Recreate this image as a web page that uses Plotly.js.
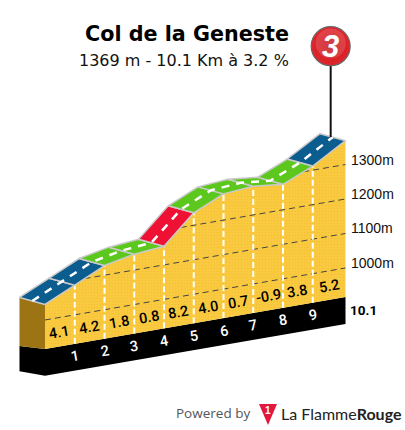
<!DOCTYPE html>
<html><head><meta charset="utf-8">
<script src="https://cdn.plot.ly/plotly-3.0.1.min.js"></script>
<style>html,body{margin:0;padding:0;background:#fff}#c{width:405px;height:430px}</style></head>
<body><div id="c"></div>
<script>
const TITLE = "Col de la Geneste";
const SUBTITLE = "1369 m - 10.1 Km à 3.2 %";
const km = [0,1,2,3,4,5,6,7,8,9,10.1];
const elevation = [1045,1086,1128,1146,1154,1236,1276,1283,1274,1312,1369];
const gradients = ["4.1","4.2","1.8","0.8","8.2","4.0","0.7","-0.9","3.8","5.2"];
const segColors = ["#0b5c8f","#0b5c8f","#5cc81e","#5cc81e","#ee1133","#5cc81e","#5cc81e","#5cc81e","#5cc81e","#0b5c8f"];
const gridLevels = [1000,1100,1200,1300];
const gridStartKm = [0,1.33,4.56,8.68];
const kmTicks = [1,2,3,4,5,6,7,8,9];
const GROUND = 916, BASE = 838, TILT = 14.92;
const ROAD_DKM = -0.857, ROAD_DE = 20.3;

const Y = (k,e)=> e + TILT*k;
const elevAt = k => { for(let i=0;i<km.length-1;i++){ if(k<=km[i+1]) return elevation[i]+(elevation[i+1]-elevation[i])*(k-km[i])/(km[i+1]-km[i]); } return elevation[elevation.length-1]; };
const back = (k,e,f=1)=>[k+ROAD_DKM*f, Y(k,e)+ROAD_DE*f];

const traces=[];
const poly=(xs,ys,fill,extra={})=>traces.push(Object.assign({type:'scatter',mode:'lines',x:xs,y:ys,fill:'toself',fillcolor:fill,line:{width:0},hoverinfo:'skip',showlegend:false},extra));

// black plinth
poly([0,10.1,10.1,0],[Y(0,GROUND),Y(10.1,GROUND),Y(10.1,BASE),Y(0,BASE)],'#000');
poly([ROAD_DKM,0,0,ROAD_DKM],[Y(0,GROUND)+8.7,Y(0,GROUND),Y(0,BASE),Y(0,BASE)+13.3],'#000');
// yellow face
poly(km.concat([10.1,0]),km.map((k,i)=>Y(k,elevation[i])).concat([Y(10.1,GROUND),Y(0,GROUND)]),'#f8c63c',
  {fillpattern:{shape:'.',fgcolor:'#f4bb33',bgcolor:'#f9ca3f',size:3,solidity:0.12,fillmode:'replace'}});
// brown side
const b0=back(0,elevation[0]);
poly([b0[0],0,0,b0[0]],[b0[1],Y(0,elevation[0]),Y(0,GROUND),Y(0,GROUND)+8.7],'#9c7413');
// dashed elevation lines
gridLevels.forEach((lv,i)=>traces.push({type:'scatter',mode:'lines',x:[gridStartKm[i],10.1],y:[Y(gridStartKm[i],lv),Y(10.1,lv)],line:{color:'#444',width:1,dash:'6px,4px'},hoverinfo:'skip',showlegend:false}));
// km verticals
kmTicks.forEach(k=>traces.push({type:'scatter',mode:'lines',x:[k,k],y:[Y(k,GROUND),Y(k,elevAt(k))],line:{color:'#fff',width:2,dash:'6px,3px'},hoverinfo:'skip',showlegend:false}));
// road
for(let i=0;i<km.length-1;i++){
  const a=back(km[i],elevation[i]), b=back(km[i+1],elevation[i+1]);
  poly([km[i],km[i+1],b[0],a[0],km[i]],[Y(km[i],elevation[i]),Y(km[i+1],elevation[i+1]),b[1],a[1],Y(km[i],elevation[i])],segColors[i],{line:{color:'#c9c9c9',width:1.5}});
}
// road centre
const cx=km.map((k,i)=>back(k,elevation[i],0.5)[0]), cy=km.map((k,i)=>back(k,elevation[i],0.5)[1]);
traces.push({type:'scatter',mode:'lines',x:cx,y:cy,line:{color:'#fff',width:2.5,dash:'8px,7px'},hoverinfo:'skip',showlegend:false});
// pin
const pinK=10.1+ROAD_DKM*0.58, pinTop=cy[cy.length-1];
const pinHead=pinTop+91/0.345;
traces.push({type:'scatter',mode:'lines',x:[pinK,pinK],y:[pinTop,pinHead],line:{color:'#111',width:2},hoverinfo:'skip',showlegend:false});
traces.push({type:'scatter',mode:'markers',x:[pinK],y:[pinHead],marker:{size:39,color:'#e2242b',line:{color:'#666',width:1.2},gradient:{type:'radial',color:'#c41c22'}},hoverinfo:'skip',showlegend:false});
traces.push({type:'scatter',mode:'markers',x:[pinK],y:[pinHead+8],marker:{size:30,color:'rgba(255,255,255,0.14)',line:{width:0}},hoverinfo:'skip',showlegend:false});

const ann=[];
const T=(x,y,text,font,o={})=>ann.push(Object.assign({x,y,xref:'x',yref:'y',text,showarrow:false,font},o));
const NUM={family:'Roboto,sans-serif',size:14.5,weight:500};
gradients.forEach((g,i)=>{const m=(km[i]+km[i+1])/2;T(m,Y(m,GROUND),g,Object.assign({color:'#000'},NUM),{textangle:-9.8,yshift:13.5});});
kmTicks.forEach(k=>T(k,Y(k,GROUND),String(k),Object.assign({color:'#fff'},NUM),{textangle:-9.8,yshift:-13}));
gridLevels.forEach(lv=>T(10.1,Y(10.1,lv),lv+"m",{family:'"Liberation Sans",Arial,sans-serif',size:14,color:'#111'},{xanchor:'left',xshift:4,yshift:5}));
T(10.1,Y(10.1,GROUND),"<b>10.1</b>",{family:'Roboto,sans-serif',size:13.5,color:'#000'},{xanchor:'left',xshift:3,yshift:-13});
T(pinK,pinHead,"<b><i>3</i></b>",{family:'"Liberation Sans",Arial,sans-serif',size:31,color:'#fff'});
const P=(x,y,text,font,o={})=>ann.push(Object.assign({x:x/405,y:1-y/430,xref:'paper',yref:'paper',xanchor:'center',yanchor:'middle',text,showarrow:false,font},o));
P(187,34,"<b>"+TITLE+"</b>",{family:'"DejaVu Sans",sans-serif',size:20.7,color:'#000'});
P(184,60,SUBTITLE,{family:'"DejaVu Sans",sans-serif',size:16,color:'#111'});
P(213,413,"Powered by",{family:'"Open Sans",sans-serif',size:13.5,color:'#555'});
P(279,413,'La Flamme<b>Rouge</b>',{family:'Lato,sans-serif',size:16,color:'#222'},{xanchor:'left'});
P(268,410,'<b>1</b>',{family:'"Liberation Sans",sans-serif',size:10,color:'#fff'});

const shapes=[{type:'path',xref:'paper',yref:'paper',path:`M ${259/405} ${1-404/430} L ${277/405} ${1-404/430} L ${268/405} ${1-425/430} Z`,fillcolor:'#e3173e',line:{width:0}}];

Plotly.newPlot('c',traces,{
  width:405,height:430,margin:{l:0,r:0,t:0,b:0},showlegend:false,
  paper_bgcolor:'#fff',plot_bgcolor:'#fff',
  xaxis:{range:[-1.5126,12.101],visible:false,fixedrange:true},
  yaxis:{range:[681.1,1927.5],visible:false,fixedrange:true},
  annotations:ann,shapes
},{displayModeBar:false,staticPlot:true});
</script></body></html>
